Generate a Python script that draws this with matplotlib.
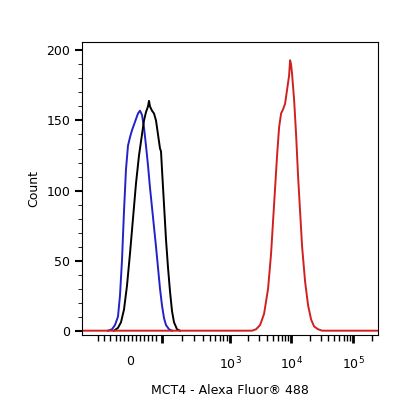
import matplotlib
matplotlib.use("Agg")
import matplotlib.pyplot as plt
import numpy as np

# x in axis channel units (0..296), y counts
blue_x = [26,30,33,36,38,40,42,44,46,48,50,53,56,58,60,62,64,66,68,70,72,74,76,78,80,82,84,87,90]
blue_y = [0,1,4,10,25,50,85,115,132,138,143,149,155,157,154,145,132,118,102,88,74,60,45,30,18,9,4,1,0]
black_x = [32,36,39,42,45,48,51,54,57,60,62,64,66,67,68,70,72,74,76,78,79,80,82,84,86,88,90,92,95,98]
black_y = [0,2,6,15,32,55,80,105,125,140,150,156,160,164,160,157,155,150,140,130,128,115,90,65,45,28,14,6,1,0]
red_x = [0,170,174,178,182,186,189,192,195,197,199,201,203,205,207,208,209,210,212,214,216,218,220,223,226,229,232,236,240,296]
red_y = [0,0,1,4,12,30,55,90,125,145,155,158,162,172,182,193,190,183,165,140,110,85,60,35,18,8,3,1,0,0]

xtick_pos = [48, 148, 209, 271]
xtick_lab = ["0", r"10$^3$", r"10$^4$", r"10$^5$"]
yticks = [0, 50, 100, 150, 200]

fig = plt.figure(figsize=(4.16, 4.16), dpi=100)
ax = fig.add_axes([0.197, 0.195, 0.712, 0.704])
ax.plot(blue_x, blue_y, color="#2222c8", lw=1.4)
ax.plot(black_x, black_y, color="black", lw=1.4)
ax.plot(red_x, red_y, color="#d02020", lw=1.4)
ax.set_xlim(0, 296)
ax.set_ylim(-3, 206)
ax.set_yticks(yticks)
ax.set_yticks(np.arange(0, 206, 10), minor=True)
major_x = [80, 148, 209, 271]
ax.set_xticks(major_x)
ax.set_xticklabels([""] * 4)
for p, l in zip(xtick_pos, xtick_lab):
    ax.text(p, -0.07, l, transform=ax.get_xaxis_transform(), ha="center", va="top", fontsize=9)
minor = []
for base, nxt in [(80, 148), (148, 209), (209, 271), (271, 333)]:
    for k in range(2, 10):
        minor.append(base + np.log10(k) * (nxt - base))
minor += [16, 22, 28, 34, 38, 42, 46, 50, 54, 58, 62, 66, 70, 74]
ax.set_xticks([m for m in minor if m < 296], minor=True)
ax.tick_params(axis="x", which="major", length=6, width=2)
ax.tick_params(axis="x", which="minor", length=4, width=1)
ax.tick_params(axis="y", which="major", length=5, width=1.5, labelsize=9)
ax.tick_params(axis="y", which="minor", length=3)
ax.set_ylabel("Count", fontsize=9)
ax.set_xlabel("MCT4 - Alexa Fluor® 488", fontsize=9, labelpad=26)
fig.savefig("out.png", dpi=100)
